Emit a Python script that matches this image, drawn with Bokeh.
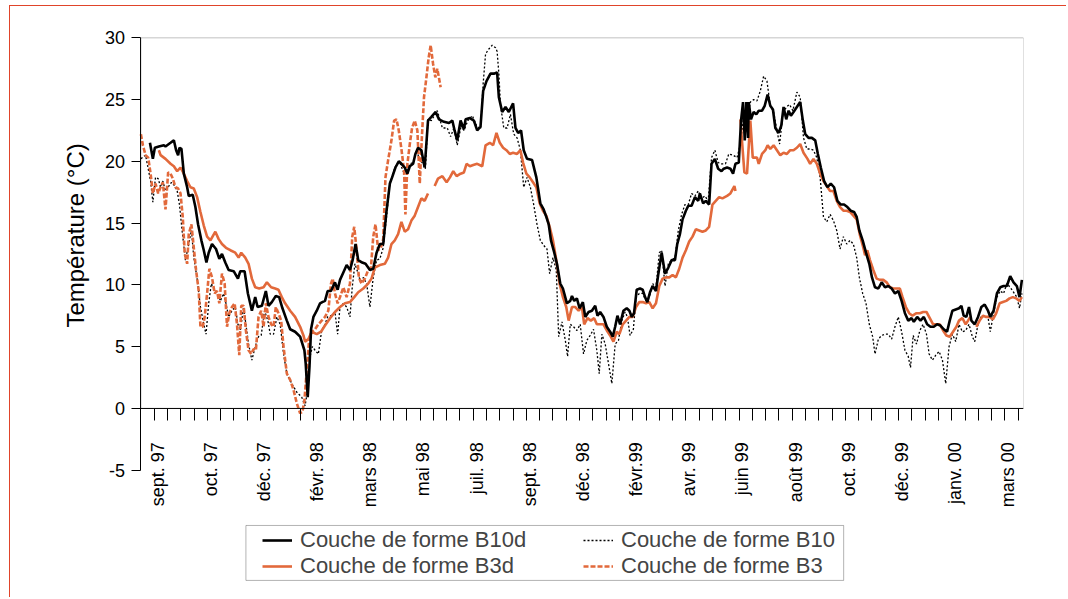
import math
from bokeh.plotting import figure
from bokeh.models import (Range1d, LinearAxis, FixedTicker, BoxAnnotation,
                          Legend, LegendItem, Label)
from bokeh.embed import file_html
from bokeh.resources import INLINE

nan = float("nan")

# x values are in half-month tick units (tick index along the axis)
tick_labels = ["sept. 97", "oct. 97", "déc. 97", "févr. 98", "mars 98", "mai 98",
               "juil. 98", "sept. 98", "déc. 98", "févr.99", "avr. 99", "juin 99",
               "août 99", "oct. 99", "déc. 99", "janv. 00", "mars 00"]
n_ticks = 66

# Couche de forme B10d (black solid)
b10d_x = [0.68, 0.90, 1.05, 1.35, 1.73, 1.85, 2.23, 2.48, 2.65, 2.80, 2.90, 3.05, 3.23, 3.48, 3.60, 3.90,
          4.10, 4.30, 4.55, 4.73, 4.93, 5.10, 5.35, 5.65, 5.90, 6.10, 6.35, 6.60, 6.98, 7.30, 7.48, 7.80,
          8.05, 8.35, 8.60, 8.78, 9.10, 9.40, 9.60, 9.85, 10.15, 10.40, 10.65, 10.98, 11.23, 11.60, 11.98,
          12.30, 12.40, 12.55, 12.68, 12.80, 12.98, 13.23, 13.48, 13.65, 13.85, 14.05, 14.30, 14.60, 14.80,
          14.98, 15.23, 15.48, 15.73, 15.93, 16.15, 16.35, 16.65, 16.90, 17.23, 17.48, 17.73, 17.98, 18.23,
          18.48, 18.73, 18.90, 19.15, 19.40, 19.60, 19.85, 20.05, 20.23, 20.48, 20.65, 20.85, 21.10, 21.35,
          21.60, 21.85, 22.18, 22.43, 22.80, 23.18, 23.43, 23.60, 23.80, 24.05, 24.30, 24.43, 24.75, 25.05,
          25.30, 25.55, 25.75, 26.00, 26.30, 26.55, 26.80, 26.93, 27.18, 27.43, 27.68, 28.00, 28.18, 28.38,
          28.60, 28.80, 29.05, 29.43, 29.75, 30.05, 30.30, 30.50, 30.68, 30.85, 31.10, 31.30, 31.55, 31.75,
          32.05, 32.30, 32.43, 32.60, 32.80, 33.00, 33.25, 33.43, 33.68, 33.93, 34.18, 34.35, 34.55, 34.80,
          35.05, 35.30, 35.50, 35.68, 35.85, 36.05, 36.30, 36.55, 36.75, 36.93, 37.10, 37.30, 37.55, 37.75,
          37.93, 38.10, 38.30, 38.50, 38.75, 38.93, 39.18, 39.43, 39.68, 39.93, 40.18, 40.35, 40.55, 40.75,
          41.00, 41.18, 41.43, 41.68, 41.93, 42.05, 42.30, 42.50, 42.75, 42.93, 43.18, 43.43, 43.68, 43.85,
          44.10, 44.35, 44.55, 44.73, 44.98, 45.15, 45.30, 45.43, 45.55, 45.68, 45.73, 45.90, 46.10, 46.30,
          46.48, 46.73, 46.93, 47.15, 47.35, 47.55, 47.73, 47.98, 48.18, 48.35, 48.55, 48.73, 48.90, 49.10,
          49.35, 49.60, 49.80, 49.98, 50.23, 50.48, 50.73, 50.93, 51.15, 51.40, 51.65, 51.90, 52.15, 52.40,
          52.65, 52.90, 53.15, 53.40, 53.65, 53.85, 54.05, 54.30, 54.55, 54.80, 55.00, 55.23, 55.48, 55.73,
          55.98, 56.23, 56.48, 56.73, 56.98, 57.23, 57.48, 57.73, 57.98, 58.15, 58.40, 58.65, 58.90, 59.15,
          59.40, 59.65, 59.90, 60.15, 60.40, 60.65, 60.85, 61.05, 61.30, 61.55, 61.73, 61.90, 62.10, 62.30,
          62.48, 62.73, 62.98, 63.23, 63.48, 63.73, 63.90, 64.15, 64.40, 64.65, 64.90, 65.15, 65.40, 65.65,
          65.90, 66.10, 66.28]
b10d_y = [21.5, 20.2, 21.1, 21.2, 21.3, 21.2, 21.5, 21.7, 20.9, 20.5, 21.1, 21.0, 19.0, 17.9, 17.2, 17.3,
          16.3, 14.9, 13.6, 12.8, 11.8, 12.6, 13.3, 12.9, 12.1, 12.5, 11.8, 11.2, 11.1, 10.5, 11.1, 11.1,
          9.3, 7.9, 9.0, 8.2, 8.3, 9.5, 8.3, 8.6, 9.1, 9.0, 8.1, 7.1, 6.4, 6.2, 5.8,
          4.7, 3.6, 0.9, 3.3, 6.4, 7.4, 7.9, 8.5, 8.6, 8.7, 9.5, 9.5, 10.2, 9.6,
          10.4, 11.0, 11.6, 11.2, 12.0, 13.3, 12.0, 11.8, 11.7, 11.2, 11.3, 12.6, 13.3, 13.3,
          16.0, 18.2, 18.7, 19.5, 20.0, 19.8, 19.5, 19.0, 19.6, 19.8, 20.6, 21.1, 20.9, 19.5,
          23.3, 23.6, 24.0, 23.4, 23.2, 23.1, 23.3, 22.5, 21.7, 23.3, 22.6, 23.4, 23.5, 23.3,
          22.5, 22.8, 25.7, 26.5, 27.1, 27.1, 27.2, 25.2, 24.0, 24.4, 24.0, 24.7, 22.7, 22.3,
          22.5, 20.9, 20.2, 20.1, 18.7, 16.6, 16.1, 15.5, 14.9, 13.6, 12.6, 11.7, 10.1, 9.7,
          8.5, 8.7, 9.1, 8.7, 8.9, 8.1, 8.6, 7.4, 7.8, 7.9, 8.3, 7.5, 7.8, 7.4,
          6.6, 6.2, 5.8, 6.6, 7.5, 6.8, 7.9, 8.1, 7.9, 7.4, 7.7, 9.6, 9.7, 9.6,
          9.0, 8.6, 9.4, 9.9, 9.5, 10.9, 12.6, 10.9, 11.4, 12.0, 12.0, 13.3, 14.1, 15.3,
          16.0, 16.4, 16.4, 17.1, 16.8, 17.4, 16.6, 16.8, 16.5, 19.8, 20.2, 19.4, 19.2, 19.4,
          19.5, 19.4, 19.0, 19.8, 19.9, 23.3, 24.8, 21.7, 24.8, 21.9, 24.8, 23.4, 24.0, 23.8,
          24.1, 24.1, 24.5, 25.4, 24.5, 24.2, 22.7, 22.3, 22.9, 24.4, 23.4, 24.1, 23.7, 24.0,
          24.4, 24.8, 23.3, 22.2, 21.9, 21.9, 21.7, 20.6, 19.5, 18.4, 17.9, 18.2, 17.9, 16.8,
          16.5, 16.5, 16.3, 16.0, 15.9, 15.5, 14.4, 13.6, 12.6, 11.7, 10.6, 9.8, 9.7, 10.2,
          9.8, 9.9, 9.7, 9.3, 9.5, 8.7, 7.7, 7.1, 7.3, 7.0, 7.4, 7.1, 7.4, 6.8,
          6.6, 6.6, 6.8, 6.7, 6.4, 6.2, 7.1, 7.9, 8.0, 8.1, 8.3, 7.5, 7.4, 8.2,
          7.1, 6.8, 7.4, 8.2, 8.4, 7.9, 7.4, 7.9, 9.3, 9.8, 9.9, 9.9, 10.7, 10.2,
          9.9, 9.0, 10.4]

# Couche de forme B10 (black dotted)
b10_x = [0.00, 0.35, 0.73, 0.90, 1.10, 1.30, 1.48, 1.65, 1.85, 2.10, 2.30, 2.55, 2.73, 2.90, 3.10, 3.35,
         3.60, 3.80, 3.98, 4.23, 4.48, 4.73, 4.90, 5.10, 5.30, 5.48, 5.73, 5.98, 6.23, 6.40, 6.60, 6.85,
         7.10, 7.30, 7.48, 7.73, 7.90, 8.10, 8.35, 8.60, 8.85, 9.05, 9.30, 9.55, 9.73, 9.98, 10.23, 10.48,
         10.73, 10.98, 11.35, 11.73, 12.10, 12.35, 12.55, 12.73, 12.90, 13.10, 13.35, 13.60, 13.85, 14.05,
         14.30, 14.60, 14.80, 14.98, 15.23, 15.48, 15.73, 15.90, 16.10, 16.35, 16.55, 16.73, 16.98, 17.23,
         17.48, 17.73, 17.98, 18.23, 18.48, 18.73, 18.98, 19.23, 19.48, 19.73, 19.98, 20.23, 20.48, 20.73,
         20.98, 21.23, 21.40, 21.60, 21.85, 22.30, 22.68, 23.05, 23.30, 23.55, 23.80, 24.10, 24.30, 24.60,
         24.93, 25.25, 25.55, 25.75, 25.93, 26.18, 26.43, 26.68, 26.80, 26.93, 27.05, 27.30, 27.55, 27.80,
         28.05, 28.30, 28.55, 28.80, 29.05, 29.30, 29.55, 29.80, 30.05, 30.30, 30.55, 30.75, 31.00, 31.25,
         31.43, 31.68, 31.93, 32.10, 32.30, 32.55, 32.80, 33.05, 33.30, 33.55, 33.80, 34.05, 34.30, 34.48,
         34.68, 34.93, 35.18, 35.43, 35.68, 35.93, 36.18, 36.43, 36.60, 36.80, 37.05, 37.25, 37.50, 37.75,
         38.00, 38.25, 38.50, 38.75, 39.00, 39.18, 39.43, 39.68, 39.93, 40.18, 40.43, 40.68, 40.93, 41.18,
         41.43, 41.68, 41.93, 42.18, 42.43, 42.68, 42.93, 43.18, 43.43, 43.68, 43.98, 44.23, 44.55, 44.85,
         45.10, 45.35, 45.60, 45.85, 46.10, 46.35, 46.60, 46.85, 47.10, 47.35, 47.60, 47.85, 48.05, 48.30,
         48.55, 48.80, 49.05, 49.35, 49.60, 49.85, 50.10, 50.35, 50.60, 50.85, 51.10, 51.35, 51.60, 51.85,
         52.10, 52.35, 52.60, 52.85, 53.10, 53.35, 53.60, 53.85, 54.05, 54.30, 54.55, 54.80, 55.05, 55.23,
         55.48, 55.73, 55.98, 56.23, 56.48, 56.73, 56.98, 57.23, 57.48, 57.73, 57.90, 58.10, 58.35, 58.60,
         58.85, 59.10, 59.30, 59.55, 59.80, 60.05, 60.30, 60.55, 60.80, 61.05, 61.30, 61.55, 61.80, 62.05,
         62.30, 62.55, 62.73, 62.98, 63.23, 63.48, 63.73, 63.90, 64.15, 64.40, 64.65, 64.90, 65.15, 65.40,
         65.65, 65.90, 66.10, 66.28]
b10_y = [20.2, 20.5, 18.4, 16.7, 18.7, 18.6, 17.9, 18.4, 17.6, 18.0, 18.3, 18.0, 17.6, 16.5, 14.4, 12.0,
         13.3, 14.4, 12.2, 10.5, 8.2, 6.8, 6.0, 8.5, 10.1, 9.7, 9.3, 8.7, 9.3, 8.5, 7.4, 7.9,
         8.2, 6.8, 6.3, 8.2, 6.8, 5.2, 3.9, 5.0, 5.8, 5.9, 7.9, 7.1, 6.0, 6.0, 7.4, 6.8,
         4.4, 2.8, 2.0, 1.3, 0.9, 0.2, 1.5, 4.2, 5.0, 4.7, 4.4, 6.3, 6.8, 7.4,
         7.5, 7.8, 6.0, 8.2, 8.5, 8.2, 7.4, 9.8, 11.7, 10.9, 10.1, 10.6, 10.1, 8.2,
         10.6, 12.0, 12.1, 13.0, 15.5, 18.2, 19.1, 19.8, 19.9, 19.2, 19.0, 19.8, 19.9, 20.9,
         20.1, 19.8, 19.4, 23.4, 23.3, 24.1, 22.7, 22.7, 22.0, 22.7, 21.3, 22.9, 22.5, 23.3,
         23.7, 22.9, 22.6, 26.3, 28.7, 29.1, 29.4, 29.2, 28.9, 27.1, 24.6, 22.7, 22.7, 23.8,
         22.2, 21.9, 20.9, 17.9, 18.7, 17.9, 16.5, 14.9, 13.6, 13.2, 12.9, 10.9, 12.2, 11.2,
         5.8, 7.0, 5.5, 4.2, 6.8, 6.6, 6.3, 6.8, 4.4, 5.5, 5.9, 6.4, 4.7, 2.8,
         6.0, 5.2, 3.6, 2.0, 5.2, 5.5, 7.1, 7.8, 7.4, 5.9, 6.4, 9.0, 9.3, 9.3,
         8.7, 9.0, 10.1, 9.8, 12.6, 12.8, 9.9, 11.7, 12.0, 12.2, 14.4, 15.7, 16.5, 16.5,
         17.4, 17.2, 17.6, 17.0, 17.2, 16.8, 20.3, 20.9, 19.9, 19.8, 19.8, 20.6, 20.5, 20.3,
         21.4, 23.6, 23.3, 24.8, 25.0, 24.9, 25.7, 26.9, 26.5, 24.5, 24.0, 22.5, 21.4, 23.8,
         24.4, 24.6, 24.1, 25.6, 25.2, 21.9, 21.0, 21.0, 20.9, 20.3, 18.7, 15.5, 15.1, 15.7,
         15.2, 14.4, 12.9, 13.9, 13.3, 13.6, 13.3, 12.2, 10.6, 9.3, 8.5, 6.8, 5.8, 4.4,
         5.6, 5.9, 6.0, 6.0, 5.6, 6.6, 7.4, 6.2, 4.7, 4.2, 3.3, 5.9, 5.2, 6.3,
         6.8, 6.0, 4.4, 3.9, 4.3, 4.6, 3.9, 2.0, 5.0, 6.0, 5.4, 6.8, 6.2, 6.3,
         6.8, 5.8, 5.4, 6.8, 7.5, 7.4, 7.4, 6.2, 7.7, 9.0, 9.5, 9.3, 10.1, 9.8,
         9.4, 9.0, 8.1, 9.3]

# Couche de forme B3d (orange solid), gaps where the record is missing
b3d_x = [1.35, 1.48, 1.85, 2.23, 2.48, 2.73, 2.98, 3.23, 3.48, 3.73, 3.98, 4.23, 4.48, 4.73, 4.98, 5.23,
         5.60, 5.85, 6.10, 6.40, 6.73, 7.10, 7.35, 7.55, 7.85, 8.10, 8.35, 8.60, 8.90, 9.23, 9.48, 9.80,
         10.10, 10.35, 10.60, 10.85, 11.23, 11.60, 11.98, 12.23, 12.35, 12.60, 12.85, 13.23, 13.55, 13.85,
         14.23, 14.60, 14.98, 15.35, 15.73, 16.05, 16.35, 16.73, 17.10, 17.35, 17.60, 17.98, 18.35, 18.60,
         18.85, 19.10, 19.35, 19.60, 19.85, 20.10, 20.35, 20.60, 20.85, 21.10, 21.35, 21.60, 21.85,
         22.10, 22.35, 22.68, 23.00, 23.25, 23.50, 23.75, 24.05, 24.30, 24.50, 24.75, 25.00, 25.30, 25.68,
         25.93, 26.25, 26.50, 26.75, 27.00, 27.25, 27.50, 27.75, 28.00, 28.30, 28.55, 28.75, 29.00, 29.25,
         29.50, 29.75, 30.00, 30.25, 30.50, 30.75, 31.00, 31.25, 31.50, 31.75, 32.00, 32.18, 32.43, 32.68,
         32.93, 33.18, 33.35, 33.60, 33.85, 34.10, 34.30, 34.55, 34.80, 35.05, 35.30, 35.55, 35.80, 36.00,
         36.25, 36.50, 36.75, 37.00, 37.25, 37.50, 37.75, 38.00, 38.25, 38.50, 38.75, 39.00, 39.25, 39.50,
         39.75, 40.00, 40.25, 40.50, 40.75, 41.00, 41.25, 41.50, 41.75, 42.00, 42.25, 42.50, 42.75, 43.00,
         43.25, 43.50, 43.75, 44.10, 44.35, 44.65, 44.73, 44.90,
         45.10, 45.40, 45.60, 45.85, 46.03, 46.35, 46.48, 46.73, 46.98, 47.15, 47.35, 47.60, 47.85, 48.10,
         48.35, 48.60, 48.85, 49.10, 49.35, 49.60, 49.85, 50.15, 50.35, 50.60, 50.85, 51.10, 51.35, 51.60,
         51.85, 52.10, 52.35, 52.60, 52.85, 53.10, 53.35, 53.60, 53.85, 54.10, 54.35, 54.48, 54.65, 54.85,
         55.10, 55.35, 55.60, 55.85, 56.10, 56.35, 56.60, 56.85, 57.10, 57.30, 57.55, 57.80, 58.05, 58.35,
         58.60, 58.85, 59.10, 59.35, 59.60, 59.85, 60.10, 60.35, 60.60, 60.85, 61.10, 61.35, 61.55, 61.80,
         62.05, 62.23, 62.40, 62.60,
         62.85, 63.10, 63.35, 63.60, 63.85, 64.10, 64.35, 64.60, 64.85, 65.10, 65.35, 65.60, 65.85, 66.10,
         66.28]
b3d_y = [20.9, 20.5, 20.2, 19.8, 19.6, 19.2, 19.5, 19.0, 18.4, 17.9, 17.8, 17.1, 15.9, 14.8, 13.9, 13.6,
         14.3, 13.7, 13.3, 13.0, 12.8, 12.6, 12.2, 12.6, 12.2, 11.7, 10.5, 9.8, 9.7, 9.8, 10.2, 9.8,
         9.7, 9.6, 9.0, 8.5, 7.9, 7.4, 6.6, 5.9, 5.4, 5.6, 6.2, 6.0, 6.2, 6.7,
         7.3, 7.8, 8.2, 8.5, 8.6, 9.0, 9.4, 9.7, 10.1, 10.5, 11.4, 11.6, 11.7, 12.2,
         13.3, 13.6, 14.1, 15.1, 14.3, 14.5, 15.2, 15.6, 16.3, 17.0, 16.8, 17.4, nan,
         18.0, 18.6, 18.8, 18.3, 18.7, 19.2, 18.8, 19.0, 19.1, 19.8, 19.6, 19.7, 19.8, 19.6,
         21.3, 21.5, 21.3, 22.3, 21.5, 21.1, 20.9, 20.6, 20.7, 20.6, 20.9, 19.9, 19.0, 18.7,
         18.3, 17.9, 16.6, 16.0, 15.6, 14.7, 13.6, 12.0, 10.1, 9.0, 8.2, 7.1, 8.2, 8.2,
         7.9, 8.2, 6.8, 7.3, 7.1, 7.3, 6.8, 6.8, 6.8, 6.3, 5.9, 5.4, 6.2, 6.0,
         6.8, 7.1, 7.4, 7.4, 8.2, 8.6, 8.6, 8.5, 8.6, 8.1, 8.5, 9.9, 10.5, 10.6,
         10.6, 10.8, 10.6, 11.3, 12.2, 12.8, 13.5, 13.9, 14.5, 14.4, 14.3, 14.4, 14.7, 16.5,
         16.8, 17.1, 17.0, 17.2, 17.4, 18.0, 17.6, nan,
         23.4, 19.1, 19.0, 23.3, 20.3, 20.3, 19.8, 20.6, 20.9, 21.3, 21.0, 21.3, 20.9, 20.5,
         20.7, 20.6, 20.9, 20.9, 21.1, 21.4, 20.7, 20.2, 19.8, 20.2, 19.8, 19.0, 18.4, 18.0,
         17.6, 17.6, 16.8, 16.3, 16.0, 16.0, 15.9, 15.6, 15.3, 14.0, 13.0, 12.4, 12.8, 12.0,
         11.2, 10.5, 10.4, 10.4, 10.2, 9.8, 9.7, 9.7, 9.7, 9.0, 8.2, 7.7, 7.5, 7.7,
         7.7, 7.8, 7.8, 7.3, 6.8, 6.8, 6.8, 6.3, 5.9, 5.8, 6.2, 6.6, 7.1, 7.3,
         6.8, 7.1, 7.4, nan,
         6.6, 7.1, 7.5, 7.4, 7.4, 7.2, 7.7, 8.5, 8.6, 8.7, 8.9, 9.0, 8.9, 8.7,
         9.0]

# Couche de forme B3 (orange dashed), record stops in May 98
b3_x = [0.00, 0.15, 0.35, 0.55, 0.73, 0.90, 1.10, 1.30, 1.48, 1.65, 1.85, 2.05, 2.23, 2.40, 2.60, 2.80,
        2.98, 3.15, 3.30, 3.48, 3.60, 3.80, 3.98, 4.15, 4.35, 4.48, 4.65, 4.80, 4.98, 5.15, 5.35, 5.55,
        5.73, 5.90, 6.10, 6.30, 6.48, 6.65, 6.85, 7.05, 7.23, 7.40, 7.55, 7.73, 7.90, 8.10, 8.30, 8.48,
        8.65, 8.85, 9.05, 9.23, 9.40, 9.60, 9.80, 9.98, 10.15, 10.35, 10.55, 10.73, 10.98, 11.23, 11.48,
        11.73, 11.98, 12.15, 12.30, 12.48, 12.65, 12.85, 13.10, 13.35, 13.60, 13.85, 14.10, 14.30, 14.43,
        14.60, 14.80, 14.98, 15.23, 15.48, 15.73, 15.90, 16.05, 16.23, 16.40, 16.60, 16.85, 17.10, 17.30,
        17.48, 17.65, 17.85, 18.05, 18.23, 18.40, 18.60, 18.85, 19.05, 19.23, 19.40, 19.60, 19.80, 19.90,
        20.05, 20.23, 20.40, 20.60, 20.80, 20.98, 21.15, 21.30, 21.48, 21.65, 21.80, 21.98, 22.15, 22.30,
        22.55]
b3_y = [22.2, 21.3, 20.5, 20.3, 19.0, 17.4, 18.2, 17.4, 17.9, 18.3, 16.1, 19.1, 19.0, 18.6, 17.9, 17.8,
        17.4, 15.5, 12.5, 11.7, 14.1, 14.9, 13.0, 11.2, 9.5, 6.6, 6.6, 7.4, 9.3, 11.3, 10.6, 9.3,
        9.5, 8.5, 10.9, 10.1, 6.6, 7.7, 8.2, 8.5, 6.8, 4.3, 8.3, 8.3, 6.3, 4.7, 4.4, 4.8,
        4.7, 7.4, 7.9, 6.6, 8.5, 7.4, 6.8, 6.6, 8.2, 7.7, 7.1, 5.0, 2.8, 2.3, 1.5,
        0.4, -0.4, -0.3, 0.6, 3.1, 5.5, 6.2, 6.4, 6.8, 7.1, 7.4, 7.9, 10.1, 10.5,
        9.3, 8.5, 9.0, 9.8, 9.0, 10.1, 13.9, 14.7, 12.8, 10.6, 10.1, 10.5, 11.2, 11.3,
        13.9, 14.9, 12.8, 13.0, 13.7, 18.7, 20.1, 21.7, 23.3, 23.4, 22.5, 21.0, 19.2, 15.7,
        19.8, 21.4, 22.7, 23.3, 22.5, 18.2, 22.2, 25.2, 26.8, 28.4, 29.4, 27.9, 26.8, 27.5,
        26.0]

y_ticks = [-5, 0, 5, 10, 15, 20, 25, 30]

ORANGE = "#E2693B"
FONT = "Liberation Sans"
X_START = -6.5
X_END = 66.4
Y_START = -15
Y_END = 31

p = figure(width=1057, height=592, output_backend="svg", toolbar_location=None,
           x_range=Range1d(X_START, X_END), y_range=Range1d(Y_START, Y_END),
           x_axis_location=None, y_axis_location=None,
           min_border_left=44, min_border_top=19,
           min_border_right=44, min_border_bottom=5,
           background_fill_color="white", border_fill_color="white",
           styles={"margin-left": "9px", "margin-top": "5px",
                   "border-top": "1px solid #E0442A", "border-left": "1px solid #E0442A",
                   "border-right": "none", "border-bottom": "none"})
p.outline_line_color = None

# y axis placed at x = 0, drawn only from -5 to 30
ya = LinearAxis(fixed_location=0, bounds=(-5, 30),
                ticker=FixedTicker(ticks=y_ticks, minor_ticks=[]),
                major_label_overrides={-5: "-5"},
                major_tick_in=0, major_tick_out=9, major_label_standoff=7,
                major_label_text_font=FONT, major_label_text_font_size="18px",
                major_label_text_color="black",
                axis_line_color="black", major_tick_line_color="black")
p.add_layout(ya, "left")

# y axis title
p.add_layout(Label(x=-4.9, y=14.0, text="Température (°C)", angle=math.pi / 2,
                   text_align="center", text_baseline="middle",
                   text_font=FONT, text_font_size="24px", text_color="black"))

# x axis placed at y = 0
label_pos = [1.25 + 4 * i for i in range(len(tick_labels))]
xa = LinearAxis(fixed_location=0, bounds=(0, X_END),
                ticker=FixedTicker(ticks=label_pos, minor_ticks=list(range(n_ticks + 1))),
                major_label_overrides={pos: lab for pos, lab in zip(label_pos, tick_labels)},
                major_label_orientation=math.pi / 2,
                major_tick_in=0, major_tick_out=0, minor_tick_in=0, minor_tick_out=12,
                major_label_standoff=22,
                major_label_text_font=FONT, major_label_text_font_size="18px",
                major_label_text_color="black",
                axis_line_color="black", minor_tick_line_color="black")
p.add_layout(xa, "below")
p.grid.visible = False

# frame (top and right edges of the 0..30 box)
p.add_layout(BoxAnnotation(left=0, right=X_END, bottom=0, top=30, fill_alpha=0,
                           line_color="#333333", line_width=1))

r_b10 = p.line(b10_x, b10_y, line_color="black", line_width=1.3, line_dash="2 2")
r_b3 = p.line(b3_x, b3_y, line_color=ORANGE, line_width=2.6, line_dash="5 2")
r_b3d = p.line(b3d_x, b3d_y, line_color=ORANGE, line_width=2.6)
r_b10d = p.line(b10d_x, b10d_y, line_color="black", line_width=2.6)

legend = Legend(items=[LegendItem(label="Couche de forme B10d", renderers=[r_b10d]),
                       LegendItem(label="Couche de forme B3d", renderers=[r_b3d]),
                       LegendItem(label="Couche de forme B10", renderers=[r_b10]),
                       LegendItem(label="Couche de forme B3", renderers=[r_b3])],
                location=(208, 14), ncols=2, orientation="vertical",
                label_text_font=FONT, label_text_font_size="22px",
                glyph_width=30, glyph_height=20, label_height=20, label_width=283,
                label_standoff=8, spacing=0, padding=0, margin=0,
                border_line_alpha=0, background_fill_alpha=0)
p.add_layout(legend, "center")

# legend frame box (below the axis)
p.add_layout(BoxAnnotation(left=7.9, right=52.87, top=-9.49, bottom=-13.94, fill_alpha=0,
                           line_color="black", line_width=1))

open("out.html", "w").write(file_html(p, INLINE))
